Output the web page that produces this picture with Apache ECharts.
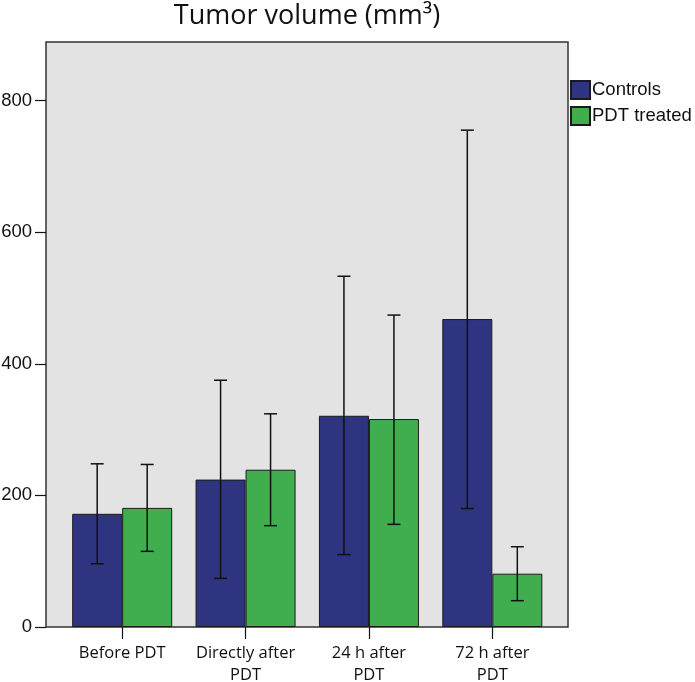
<!DOCTYPE html>
<html>
<head>
<meta charset="utf-8">
<script src="https://cdn.jsdelivr.net/npm/echarts@6/dist/echarts.min.js"></script>
<style>html,body{margin:0;padding:0;background:#fff;}#c{width:695px;height:682px;}</style>
</head>
<body>
<div id="c"></div>
<script>
const categories = ['Before PDT', 'Directly after\nPDT', '24 h after\nPDT', '72 h after\nPDT'];
const controls = [172, 224, 321, 468];
const controlsLow = [96, 74, 110, 180];
const controlsHigh = [248, 375, 533, 755];
const pdt = [181, 239, 316, 81];
const pdtLow = [115, 154, 156, 40];
const pdtHigh = [247, 324, 474, 122];
const yTicks = [0, 200, 400, 600, 800];

const navy = '#2F3481';
const green = '#40AE4F';
const BAR_W = 50;

function errSeries(name, low, high, offset) {
  return {
    type: 'custom',
    name: name + ' err',
    xAxisIndex: 1, yAxisIndex: 1,
    z: 5,
    silent: true,
    data: low.map((l, i) => [i, l, high[i]]),
    renderItem: function (params, api) {
      const i = api.value(0);
      const pLo = api.coord([i, api.value(1)]);
      const pHi = api.coord([i, api.value(2)]);
      const x = pLo[0] + offset;
      const cap = 6.5;
      const st = { stroke: '#111', lineWidth: 1.5 };
      return {
        type: 'group',
        children: [
          { type: 'line', shape: { x1: x, y1: pLo[1], x2: x, y2: pHi[1] }, style: st },
          { type: 'line', shape: { x1: x - cap, y1: pLo[1], x2: x + cap, y2: pLo[1] }, style: st },
          { type: 'line', shape: { x1: x - cap, y1: pHi[1], x2: x + cap, y2: pHi[1] }, style: st }
        ]
      };
    }
  };
}

const chart = echarts.init(document.getElementById('c'));
chart.setOption({
  animation: false,
  title: {
    text: 'Tumor volume (mm³)',
    left: 307, top: 3, textAlign: 'center', padding: [0, 0, 0, 0],
    textStyle: { fontFamily: 'Open Sans', fontSize: 27, fontWeight: 'normal', color: '#111' }
  },
  legend: {
    orient: 'vertical',
    left: 570, top: 80, padding: 0,
    icon: 'rect',
    itemWidth: 19, itemHeight: 18, itemGap: 6,
    data: ['Controls', 'PDT treated'],
    textStyle: { fontFamily: 'Liberation Sans', fontSize: 18.5, color: '#111', padding: [0, 0, 0, -3] }
  },
  grid: [
    { left: 46, top: 42, width: 522, height: 585, show: true, backgroundColor: '#E3E3E3', borderColor: '#333', borderWidth: 1.5, outerBoundsMode: 'none', containLabel: false },
    { left: 60.5, top: 42, width: 493.5, height: 585, outerBoundsMode: 'none', containLabel: false }
  ],
  xAxis: [
    { gridIndex: 0, type: 'value', show: false },
    {
      gridIndex: 1, type: 'category', data: categories,
      axisLine: { show: false },
      axisTick: { show: true, interval: 0, alignWithLabel: true, length: 12, lineStyle: { color: '#111', width: 1.2 } },
      axisLabel: { interval: 0, hideOverlap: false, margin: 15, fontFamily: 'Open Sans', fontSize: 16.5, lineHeight: 22, color: '#111' }
    }
  ],
  yAxis: [
    { gridIndex: 0, type: 'value', show: false },
    {
      gridIndex: 1, type: 'value', min: 0, max: 889, interval: 200,
      offset: 14.5,
      axisLine: { show: false },
      splitLine: { show: false },
      axisTick: { show: true, length: 11, customValues: yTicks, lineStyle: { color: '#111', width: 1.2 } },
      axisLabel: { customValues: yTicks, margin: 14, fontFamily: 'Liberation Sans', fontSize: 18.5, color: '#111' }
    }
  ],
  series: [
    {
      name: 'Controls', type: 'bar', xAxisIndex: 1, yAxisIndex: 1,
      data: controls, barWidth: BAR_W, barGap: '0%',
      itemStyle: { color: navy, borderColor: '#1a1a1a', borderWidth: 1 }
    },
    {
      name: 'PDT treated', type: 'bar', xAxisIndex: 1, yAxisIndex: 1,
      data: pdt, barWidth: BAR_W, barGap: '0%',
      itemStyle: { color: green, borderColor: '#1a1a1a', borderWidth: 1 }
    },
    errSeries('Controls', controlsLow, controlsHigh, -BAR_W / 2),
    errSeries('PDT treated', pdtLow, pdtHigh, BAR_W / 2)
  ]
});
</script>
</body>
</html>
